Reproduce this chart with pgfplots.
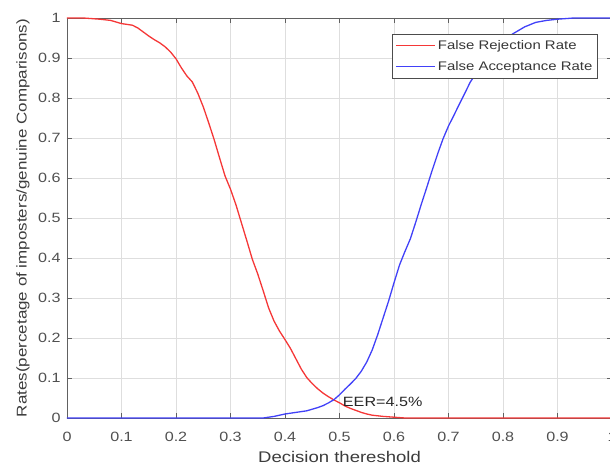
\documentclass[border=0pt]{standalone}
\usepackage{pgfplots}
\pgfplotsset{compat=1.18}
\usepackage{fontspec}
\setmainfont{Liberation Sans}[FakeStretch=1.2]
\definecolor{frr}{RGB}{245,55,55}
\definecolor{far}{RGB}{65,65,248}
\definecolor{tickc}{RGB}{80,80,80}
\definecolor{labc}{RGB}{60,60,60}
\begin{document}
\begin{tikzpicture}
\begin{axis}[name=ax, scale only axis, width=545bp, height=400bp,
  xmin=0, xmax=1, ymin=0, ymax=1,
  xtick={0,0.1,0.2,0.3,0.4,0.5,0.6,0.7,0.8,0.9,1},
  ytick={0,0.1,0.2,0.3,0.4,0.5,0.6,0.7,0.8,0.9,1},
  /pgf/number format/assume math mode=true,
  grid=major, major grid style={draw=black!13, line width=0.6pt},
  axis line style={draw=black!62, line width=0.9pt},
  tick style={draw=black!62, line width=0.7pt},
  tick align=inside, major tick length=5bp,
  xtick pos=both, ytick pos=both,
  xticklabel pos=lower, yticklabel pos=left,
  xticklabel style={font=\fontsize{13.5}{13.5}\selectfont, text=tickc, anchor=base, yshift=-23bp},
  yticklabel style={font=\fontsize{13.5}{13.5}\selectfont, text=tickc, anchor=east, xshift=-3bp},
  xlabel={Decision thereshold},
  ylabel={Rates(percetage of imposters/genuine Comparisons)},
  xlabel style={font=\fontsize{15.5}{15.5}\selectfont, text=labc, at={(axis description cs:0.5,0)}, anchor=base, yshift=-44bp},
  ylabel style={font=\fontsize{14.2}{14.2}\selectfont, text=labc, at={([xshift=-34bp]axis description cs:0,0.5)}, anchor=south, rotate=0},
  legend style={at={(0.974,0.96)}, anchor=north east, draw=black!70, line width=0.9pt, fill=white,
    font=\fontsize{12.5}{12.5}\selectfont, text=black!78, inner xsep=3bp, inner ysep=4bp, row sep=6.5bp,
    nodes={inner sep=2bp}},
  legend image code/.code={\draw[#1, line width=1.3bp] (0bp,0bp) -- (39bp,0bp);},
  legend cell align=left,
]
\addplot[color=frr, line width=1.3bp] coordinates {
(0,1.0) (0.03,1.0) (0.06,0.997) (0.08,0.994) (0.10,0.986) (0.12,0.982) (0.13,0.975)
(0.14,0.965) (0.15,0.955) (0.16,0.946) (0.17,0.938) (0.18,0.928) (0.19,0.915)
(0.20,0.898) (0.21,0.875) (0.22,0.855) (0.23,0.840) (0.24,0.812) (0.25,0.778)
(0.26,0.738) (0.27,0.696) (0.28,0.650) (0.29,0.605) (0.30,0.572) (0.31,0.533)
(0.32,0.488) (0.33,0.443) (0.34,0.397) (0.35,0.360) (0.36,0.318) (0.37,0.275)
(0.38,0.242) (0.39,0.217) (0.40,0.196) (0.41,0.174) (0.42,0.148) (0.43,0.122)
(0.44,0.101) (0.45,0.086) (0.46,0.073) (0.47,0.062) (0.48,0.053) (0.49,0.045)
(0.50,0.038) (0.51,0.030) (0.52,0.024) (0.53,0.019) (0.54,0.014) (0.55,0.010)
(0.56,0.007) (0.58,0.004) (0.60,0.002) (0.62,0.0) (1.0,0.0)
};
\addlegendentry{False Rejection Rate}
\addplot[color=far, line width=1.3bp] coordinates {
(0,0) (0.36,0) (0.38,0.004) (0.40,0.010) (0.42,0.014) (0.44,0.018) (0.46,0.026)
(0.47,0.031) (0.48,0.038) (0.49,0.046) (0.50,0.058) (0.51,0.072) (0.52,0.085)
(0.53,0.099) (0.54,0.117) (0.55,0.140) (0.56,0.170) (0.57,0.208) (0.58,0.250)
(0.59,0.292) (0.60,0.338) (0.61,0.382) (0.62,0.416) (0.63,0.448) (0.64,0.490)
(0.65,0.534) (0.66,0.576) (0.67,0.619) (0.68,0.660) (0.69,0.698) (0.70,0.730)
(0.71,0.757) (0.72,0.785) (0.73,0.812) (0.74,0.840) (0.76,0.880) (0.78,0.915)
(0.80,0.945) (0.82,0.962) (0.84,0.978) (0.86,0.989) (0.88,0.994) (0.90,0.997)
(0.93,1.0) (1.0,1.0)
};
\addlegendentry{False Acceptance Rate}
\node[anchor=base west, inner sep=0pt, font=\fontsize{13.5}{13.5}\selectfont, text=black!85] at (axis cs:0.506,0.03) {EER=4.5\%};
\end{axis}
\pgfresetboundingbox
\path ([xshift=-67bp,yshift=-47bp]ax.south west) rectangle ([xshift=-2bp,yshift=18bp]ax.north east);
\end{tikzpicture}
\end{document}
